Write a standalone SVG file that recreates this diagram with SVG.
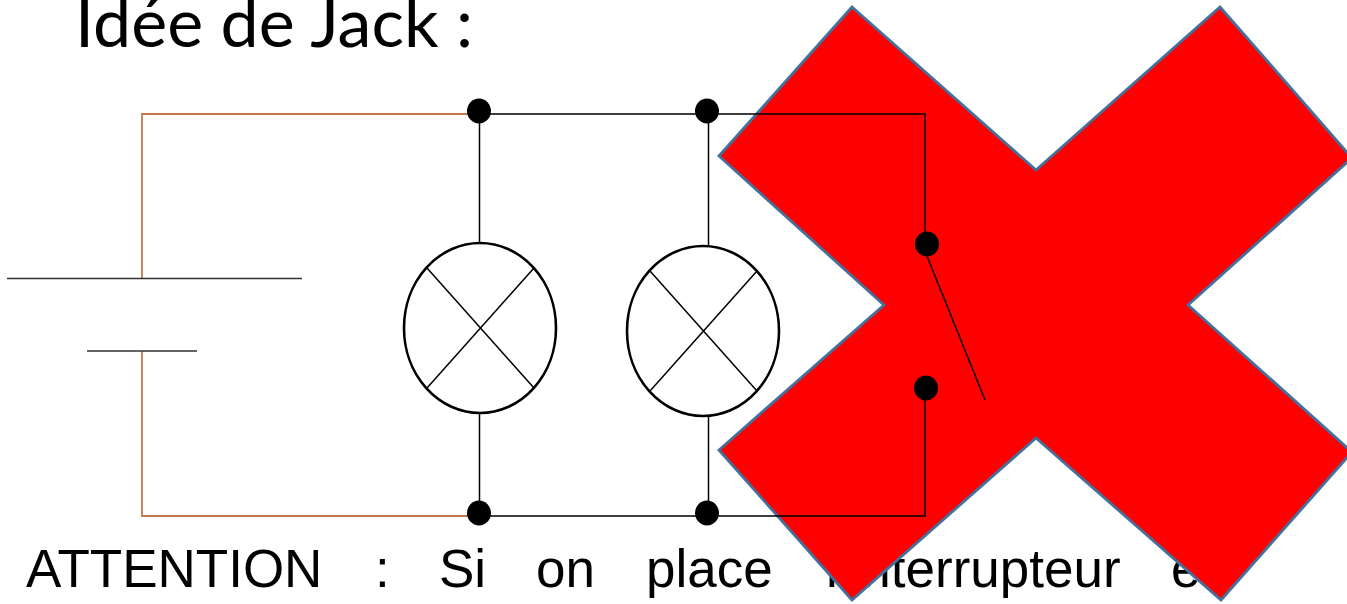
<svg xmlns="http://www.w3.org/2000/svg" width="1347" height="604" viewBox="0 0 1347 604">
<style>
.w{fill:none;stroke:#000;stroke-width:1.5}
.o{fill:none;stroke:#c0784a;stroke-width:1.8}
.g{fill:none;stroke:#333;stroke-width:1.4}
.l{fill:#fff;stroke:#000;stroke-width:2.6}
.d{fill:#000}
.t{font-family:Lato,"Open Sans",sans-serif;font-size:68px;fill:#000}
.b{font-family:"Liberation Sans",Arial,sans-serif;font-size:53px;fill:#000}
</style>
<rect width="1347" height="604" fill="#fff"/>
<g id="title"><text class="t" x="75" y="47" textLength="398" lengthAdjust="spacingAndGlyphs">Idée de Jack :</text></g>
<g id="caption"><text class="b" y="587"><tspan x="26">ATTENTION</tspan><tspan x="375">:</tspan><tspan x="439">Si</tspan><tspan x="536">on</tspan><tspan x="646">place</tspan><tspan x="826">l’interrupteur</tspan><tspan x="1171">e</tspan></text></g>
<g id="cross"><polygon points="852,7 1036,170 1220,7 1352,158 1188,305 1352,452 1221,600 1036,438 852,600 719,450 884,305 719,156" fill="#f00" stroke="#41719c" stroke-width="2.8"/></g>
<g id="connectors">
<path class="o" d="M470 114H142V278M142 351V516H470"/>
<path class="w" d="M480 114H925V245M925 388V516H480M479.500 114V243M479.500 413V516M708.500 114V246M708.500 417V516"/>
<path class="w" d="M927 256L985 400"/>
</g>
<g id="battery"><path class="g" d="M7 278.500H302M87 351H197"/></g>
<g id="lamp1"><ellipse class="l" cx="480" cy="328" rx="76" ry="85"/><path class="w" d="M427 268L534 388M534 268L427 388"/></g>
<g id="lamp2"><ellipse class="l" cx="703" cy="331" rx="76" ry="85"/><path class="w" d="M650 271L757 391M757 271L650 391"/></g>
<g id="junction-top-1"><ellipse class="d" cx="479" cy="111" rx="12" ry="12.500"/></g>
<g id="junction-top-2"><ellipse class="d" cx="707" cy="111" rx="12" ry="12.500"/></g>
<g id="junction-bottom-1"><ellipse class="d" cx="479" cy="513" rx="12" ry="12.500"/></g>
<g id="junction-bottom-2"><ellipse class="d" cx="707" cy="513" rx="12" ry="12.500"/></g>
<g id="switch-top"><ellipse class="d" cx="927" cy="244" rx="12" ry="12.500"/></g>
<g id="switch-bottom"><ellipse class="d" cx="926" cy="388" rx="12" ry="12.500"/></g>
</svg>
